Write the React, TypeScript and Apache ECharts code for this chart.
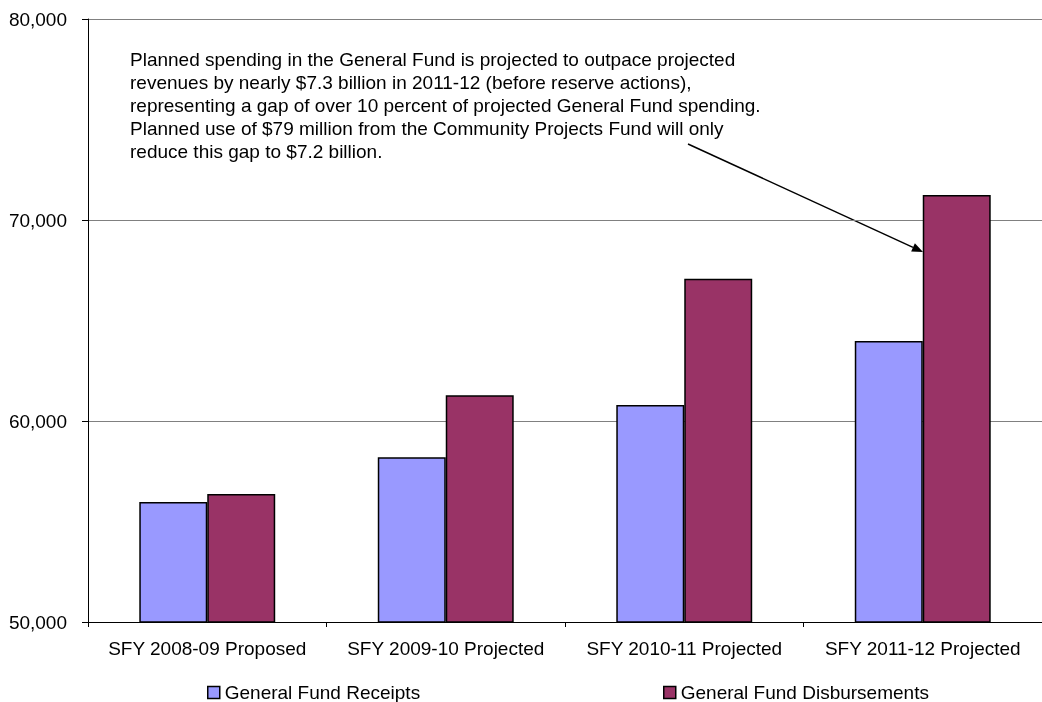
import React, { useEffect, useRef } from "react";
import * as echarts from "echarts";

const categories = [
  "SFY 2008-09 Proposed",
  "SFY 2009-10 Projected",
  "SFY 2010-11 Projected",
  "SFY 2011-12 Projected",
];
const receipts = [55970, 58200, 60800, 63980];
const disbursements = [56370, 61280, 67080, 71240];
const seriesNames = ["General Fund Receipts", "General Fund Disbursements"];
const yTicks = { min: 50000, max: 80000, interval: 10000 };
const noteLines = [
  "Planned spending in the General Fund is projected to outpace projected",
  "revenues by nearly $7.3 billion in 2011-12 (before reserve actions),",
  "representing a gap of over 10 percent of projected General Fund spending.",
  "Planned use of $79 million from the Community Projects Fund will only",
  "reduce this gap to $7.2 billion.",
];

const FONT = "'Liberation Sans', Arial, sans-serif";

export default function App() {
  const ref = useRef<HTMLDivElement>(null);
  useEffect(() => {
    document.body.style.margin = "0";
    const chart = echarts.init(ref.current!, null, { renderer: "svg" });
    const barStyle = (color: string) => ({
      color,
      borderColor: "#000",
      borderWidth: 1.5,
    });
    // arrow geometry
    const sx = 688, sy = 144, tx = 923, ty = 252;
    const len = Math.hypot(tx - sx, ty - sy);
    const ux = (tx - sx) / len, uy = (ty - sy) / len;
    const hl = 11, hw = 4.5;
    const bx = tx - hl * ux, by = ty - hl * uy;
    const legendBase = {
      top: 683,
      padding: 0,
      itemWidth: 12,
      itemHeight: 12,
      icon: "rect",
      itemStyle: { borderColor: "#000", borderWidth: 1.5 },
      textStyle: { fontSize: 19, color: "#000", fontFamily: FONT, lineHeight: 18 },
    };
    chart.setOption({
      animation: false,
      textStyle: { fontFamily: FONT },
      grid: { left: 88, right: 0, top: 19, bottom: 80, containLabel: false },
      legend: [
        { ...legendBase, data: [seriesNames[0]], left: 207 },
        { ...legendBase, data: [seriesNames[1]], left: 663 },
      ],
      xAxis: {
        type: "category",
        data: categories,
        axisLine: { show: true, lineStyle: { color: "#000", width: 1 } },
        axisTick: { show: true, interval: 0, length: 5, lineStyle: { color: "#000" } },
        axisLabel: { color: "#000", fontSize: 19, margin: 17, interval: 0, fontFamily: FONT },
      },
      yAxis: {
        type: "value",
        min: yTicks.min,
        max: yTicks.max,
        interval: yTicks.interval,
        axisLine: { show: true, lineStyle: { color: "#000", width: 1 } },
        axisTick: { show: true, length: 6, lineStyle: { color: "#000" } },
        splitLine: { show: true, lineStyle: { color: "#808080", width: 1 } },
        axisLabel: {
          color: "#000",
          fontSize: 19,
          margin: 21,
          fontFamily: FONT,
          formatter: (v: number) => v.toLocaleString("en-US"),
        },
      },
      series: [
        {
          name: seriesNames[0],
          type: "bar",
          data: receipts,
          barGap: "0%",
          barCategoryGap: "43%",
          itemStyle: barStyle("#9999FF"),
        },
        {
          name: seriesNames[1],
          type: "bar",
          data: disbursements,
          barGap: "0%",
          barCategoryGap: "43%",
          itemStyle: barStyle("#993366"),
        },
      ],
      graphic: [
        {
          type: "text",
          left: 130,
          top: 48,
          style: {
            text: noteLines.join("\n"),
            fontSize: 19,
            lineHeight: 23,
            fill: "#000",
            fontFamily: FONT,
          },
        },
        {
          type: "line",
          shape: { x1: sx, y1: sy, x2: bx, y2: by },
          style: { stroke: "#000", lineWidth: 1.5 },
        },
        {
          type: "polygon",
          shape: {
            points: [
              [tx, ty],
              [bx - hw * uy, by + hw * ux],
              [bx + hw * uy, by - hw * ux],
            ],
          },
          style: { fill: "#000" },
        },
      ],
    });
    return () => chart.dispose();
  }, []);
  return (
    <div
      ref={ref}
      style={{ position: "fixed", left: 0, top: 0, width: 1042, height: 702 }}
    />
  );
}
